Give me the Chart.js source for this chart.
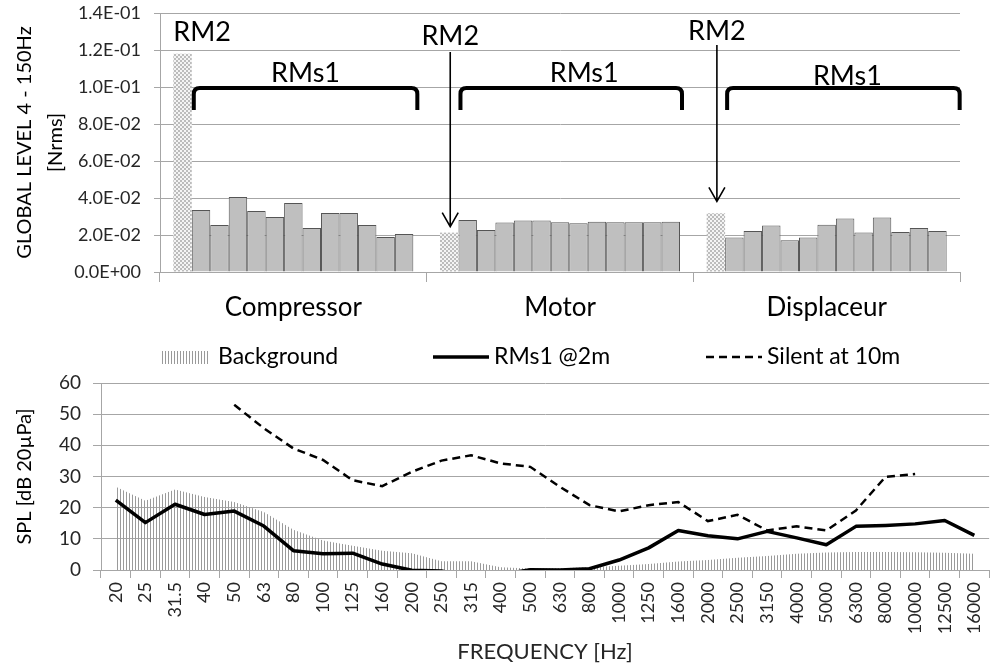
<!DOCTYPE html>
<html>
<head>
<meta charset="utf-8">
<script src="https://cdn.jsdelivr.net/npm/chart.js@4.4.1/dist/chart.umd.min.js"></script>
<style>
  html, body { margin: 0; padding: 0; background: #fff; overflow: hidden; }
  #wrap-top { position: absolute; left: 0; top: 0; width: 992px; height: 330px; }
  #wrap-bottom { position: absolute; left: 0; top: 330px; width: 1000px; height: 335px; }
</style>
</head>
<body>
<div id="wrap-top"><canvas id="chart-top"></canvas></div>
<div id="wrap-bottom"><canvas id="chart-bottom"></canvas></div>
<script>
// top chart: global level per machine part
const groups = ['Compressor', 'Motor', 'Displaceur'];
const rm2 = [0.118, 0.0213, 0.0317];
const compressorRms1 = [0.0335, 0.0254, 0.0405, 0.0330, 0.0297, 0.0373, 0.0238, 0.0319, 0.0319, 0.0254, 0.0189, 0.0205];
const motorRms1 = [0.0281, 0.0227, 0.0267, 0.0278, 0.0278, 0.0269, 0.0263, 0.0272, 0.0269, 0.0269, 0.0269, 0.0272];
const displaceurRms1 = [0.0186, 0.0222, 0.0252, 0.0171, 0.0186, 0.0256, 0.0289, 0.0213, 0.0294, 0.0216, 0.0238, 0.0222];

// bottom chart: third-octave spectrum
const freqLabels = ['20', '25', '31.5', '40', '50', '63', '80', '100', '125', '160', '200', '250', '315', '400', '500',
  '630', '800', '1000', '1250', '1600', '2000', '2500', '3150', '4000', '5000', '6300', '8000', '10000', '12500', '16000'];
const background = [26.7, 22.2, 25.8, 23.4, 21.8, 18.6, 12.9, 9.5, 7.8, 6.2, 5.4, 2.8, 2.8, 0.9, 0.5,
  0.6, 0.9, 1.4, 1.9, 2.7, 3.2, 3.9, 4.5, 5.2, 5.6, 5.8, 5.8, 5.7, 5.5, 5.2];
const rms1At2m = [22.4, 15.2, 21.1, 17.8, 18.9, 14.1, 6.2, 5.2, 5.4, 1.9, -0.1, -0.3, -2.5, -1.5, 0.1,
  0.0, 0.4, 3.2, 7.1, 12.7, 11.0, 10.0, 12.4, 10.3, 8.1, 14.0, 14.3, 14.8, 15.9, 11.1];
const silentAt10m = [null, null, null, null, 53.0, 45.5, 39.0, 35.3, 28.8, 26.9, 31.5, 35.1, 36.8, 34.2, 33.1,
  26.7, 20.8, 18.8, 20.8, 21.8, 15.7, 17.7, 12.7, 14.0, 12.7, 19.1, 29.9, 30.8, null, null];

const FONT = 'Lato';
const GRID = '#a6a6a6';
const TXT = '#262626';

function makeChecker() {
  const c = document.createElement('canvas');
  c.width = 4; c.height = 4;
  const g = c.getContext('2d');
  g.fillStyle = '#f4f4f4';
  g.fillRect(0, 0, 4, 4);
  g.fillStyle = '#bcbcbc';
  g.fillRect(0, 0, 2, 2);
  g.fillRect(2, 2, 2, 2);
  return g.createPattern(c, 'repeat');
}

function makeHatch() {
  const c = document.createElement('canvas');
  c.width = 3; c.height = 3;
  const g = c.getContext('2d');
  g.fillStyle = '#9a9a9a';
  g.fillRect(0, 0, 1, 3);
  return g.createPattern(c, 'repeat');
}

function sci(v) {
  if (Math.abs(v) < 1e-12) return '0.0E+00';
  const e = Math.floor(Math.log10(Math.abs(v)) + 1e-9);
  const m = v / Math.pow(10, e);
  return m.toFixed(1) + 'E' + (e < 0 ? '-' : '+') + String(Math.abs(e)).padStart(2, '0');
}

// ---------- top chart ----------
const rmsByGroup = [compressorRms1, motorRms1, displaceurRms1];
const barSets = [{
  label: 'RM2',
  data: rm2,
  backgroundColor: makeChecker(),
  borderWidth: 0
}];
for (let i = 0; i < compressorRms1.length; i++) {
  barSets.push({
    label: 'RMs1 ' + (i + 1),
    data: rmsByGroup.map(g => g[i]),
    backgroundColor: '#bfbfbf',
    borderColor: '#555555',
    borderWidth: 1
  });
}

const labelY = [19, 23, 18];      // RM2 text offset from plot top
const arrowStart = [0, 39, 32];
const arrowGap = [0, 6, 12];
const bracketExtra = [4, 2, 13];
const rmsTextShift = [0, 13, 4];

const annotations = {
  id: 'annotations',
  afterDatasetsDraw(chart) {
    const ctx = chart.ctx;
    const top = chart.chartArea.top;
    const rm2Bars = chart.getDatasetMeta(0).data;
    const firstBars = chart.getDatasetMeta(1).data;
    const lastBars = chart.getDatasetMeta(barSets.length - 1).data;
    ctx.save();
    ctx.fillStyle = '#000';
    ctx.strokeStyle = '#000';
    ctx.font = '27px ' + FONT;
    ctx.textBaseline = 'middle';

    rm2Bars.forEach((bar, i) => {
      if (i === 0) {
        ctx.textAlign = 'left';
        ctx.fillText('RM2', bar.x - bar.width / 2, top + labelY[i]);
      } else {
        const ax = bar.x + 1;
        ctx.textAlign = 'center';
        ctx.fillText('RM2', ax, top + labelY[i]);
        const tip = bar.y - arrowGap[i];
        ctx.lineWidth = 1.6;
        ctx.beginPath();
        ctx.moveTo(ax, top + arrowStart[i]);
        ctx.lineTo(ax, tip);
        ctx.moveTo(ax - 8, tip - 14);
        ctx.lineTo(ax, tip);
        ctx.lineTo(ax + 8, tip - 14);
        ctx.stroke();
      }
    });

    // brackets over the RMs1 bars
    ctx.lineWidth = 4;
    ctx.lineJoin = 'round';
    ctx.lineCap = 'butt';
    firstBars.forEach((bar, i) => {
      const l = bar.x - bar.width / 2 + 2;
      const r = lastBars[i].x + lastBars[i].width / 2 + bracketExtra[i];
      const by = top + 75, bb = top + 97, rad = 6;
      ctx.beginPath();
      ctx.moveTo(l, bb);
      ctx.lineTo(l, by + rad);
      ctx.quadraticCurveTo(l, by, l + rad, by);
      ctx.lineTo(r - rad, by);
      ctx.quadraticCurveTo(r, by, r, by + rad);
      ctx.lineTo(r, bb);
      ctx.stroke();
      ctx.textAlign = 'center';
      ctx.fillText('RMs1', (l + r) / 2 + rmsTextShift[i], top + (i === 2 ? 63 : 60));
    });
    ctx.restore();
  }
};

new Chart(document.getElementById('chart-top').getContext('2d'), {
  type: 'bar',
  data: { labels: groups, datasets: barSets },
  options: {
    responsive: true,
    maintainAspectRatio: false,
    animation: false,
    layout: { padding: { top: 13, right: 32, left: 0, bottom: 0 } },
    datasets: { bar: { categoryPercentage: 0.9, barPercentage: 1.0 } },
    plugins: { legend: { display: false }, tooltip: { enabled: false } },
    scales: {
      x: {
        offset: true,
        grid: { offset: true, drawOnChartArea: false, color: GRID, tickLength: 10 },
        border: { color: GRID },
        ticks: { color: '#000', font: { family: FONT, size: 26 }, padding: 10 },
        afterFit(scale) { scale.height = 58; }
      },
      y: {
        min: 0,
        max: 0.14,
        ticks: { stepSize: 0.02, color: TXT, font: { family: FONT, size: 18 }, padding: 13, callback: v => sci(v) },
        grid: { color: GRID, tickLength: 6 },
        border: { color: GRID },
        title: {
          display: true,
          text: ['GLOBAL LEVEL 4 - 150Hz', '[Nrms]'],
          color: '#000',
          font: { family: FONT, size: 20, lineHeight: 1.55 },
          padding: { top: 9, bottom: 0 }
        },
        afterFit(scale) {
          scale.width = 160;
          scale.paddingTop = 8;
          scale.paddingBottom = 8;
        }
      }
    }
  },
  plugins: [annotations]
});

// ---------- bottom chart ----------
const hatch = makeHatch();
const legendCols = 273;
const spectrumLegend = {
  id: 'spectrumLegend',
  afterDraw(chart) {
    const ctx = chart.ctx;
    const cy = 27;
    ctx.save();
    ctx.font = '23px ' + FONT;
    ctx.fillStyle = '#000';
    ctx.textBaseline = 'middle';
    ctx.textAlign = 'left';
    chart.data.datasets.forEach((ds, i) => {
      const x = 160 + i * legendCols;
      if (ds.fill) {
        ctx.fillStyle = hatch;
        ctx.fillRect(x, cy - 6, 50, 13);
        ctx.fillStyle = '#000';
        ctx.fillText(ds.label, x + 58, cy);
      } else {
        ctx.strokeStyle = ds.borderColor;
        ctx.lineWidth = ds.borderWidth;
        ctx.setLineDash(ds.borderDash || []);
        ctx.beginPath();
        ctx.moveTo(x, cy);
        ctx.lineTo(x + 56, cy);
        ctx.stroke();
        ctx.setLineDash([]);
        ctx.fillText(ds.label, x + 61, cy);
      }
    });
    ctx.restore();
  }
};

new Chart(document.getElementById('chart-bottom').getContext('2d'), {
  type: 'line',
  data: {
    labels: freqLabels,
    datasets: [
      {
        label: 'Background',
        data: background,
        fill: 'origin',
        backgroundColor: hatch,
        borderWidth: 0,
        pointRadius: 0,
        tension: 0,
        order: 3
      },
      {
        label: 'RMs1 @2m',
        data: rms1At2m,
        fill: false,
        borderColor: '#000',
        borderWidth: 3.5,
        pointRadius: 0,
        tension: 0,
        borderJoinStyle: 'round',
        order: 1
      },
      {
        label: 'Silent at 10m',
        data: silentAt10m,
        fill: false,
        borderColor: '#000',
        borderWidth: 2.5,
        borderDash: [8, 5],
        pointRadius: 0,
        tension: 0,
        order: 2
      }
    ]
  },
  options: {
    responsive: true,
    maintainAspectRatio: false,
    animation: false,
    layout: { padding: { top: 53, right: 4, left: 0, bottom: 0 } },
    plugins: { legend: { display: false }, tooltip: { enabled: false } },
    scales: {
      x: {
        offset: true,
        grid: { offset: true, drawOnChartArea: false, color: GRID, tickLength: 8 },
        border: { color: GRID },
        ticks: { autoSkip: false, maxRotation: 90, minRotation: 90, color: TXT, font: { family: FONT, size: 18 }, padding: 4 },
        title: {
          display: true,
          text: 'FREQUENCY [Hz]',
          color: TXT,
          font: { family: FONT, size: 22 },
          padding: { top: 0, bottom: 0 }
        },
        afterFit(scale) { scale.height = 95; }
      },
      y: {
        min: 0,
        max: 60,
        ticks: { stepSize: 10, color: TXT, font: { family: FONT, size: 19 }, padding: 12 },
        grid: { color: GRID, tickLength: 8 },
        border: { color: GRID },
        title: {
          display: true,
          text: 'SPL [dB 20µPa]',
          color: '#000',
          font: { family: FONT, size: 20 },
          padding: { top: 13, bottom: 0 }
        },
        afterFit(scale) { scale.width = 101; }
      }
    }
  },
  plugins: [spectrumLegend]
});
</script>
</body>
</html>
